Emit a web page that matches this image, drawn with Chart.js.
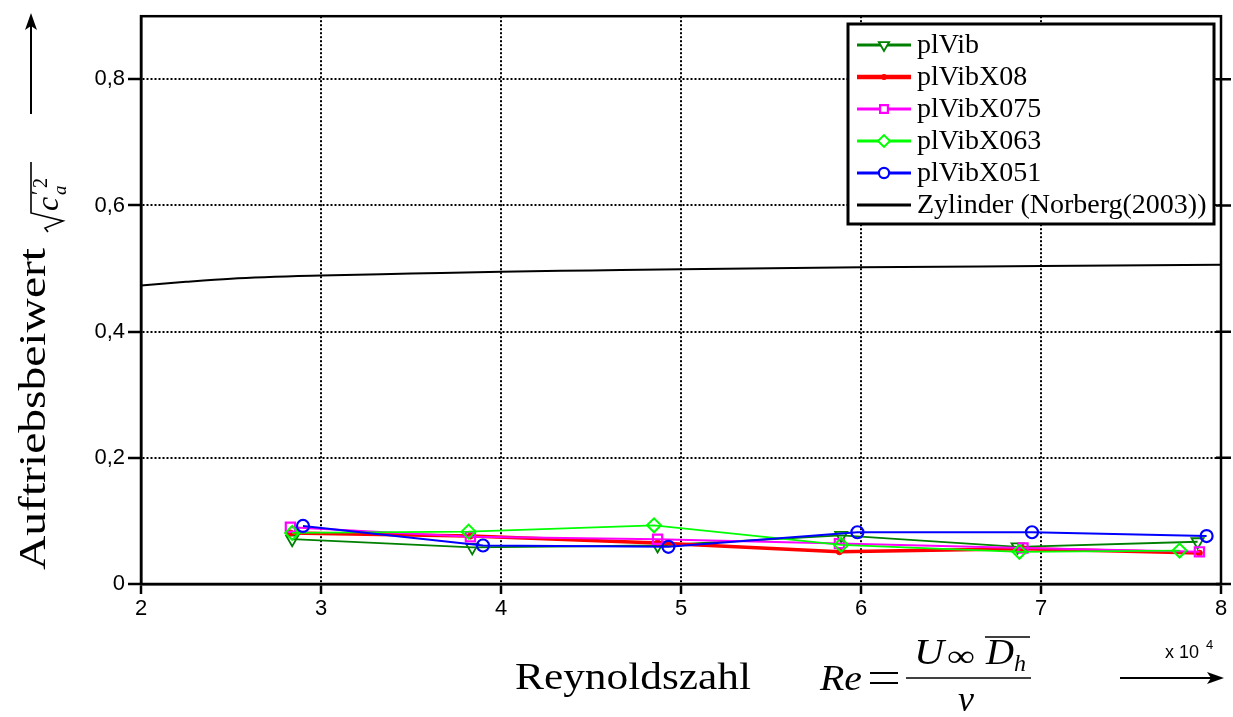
<!DOCTYPE html>
<html>
<head>
<meta charset="utf-8">
<script src="https://cdn.jsdelivr.net/npm/chart.js@4.4.0/dist/chart.umd.min.js"></script>
<style>
  html, body { margin: 0; padding: 0; background: #fff; }
  canvas { display: block; }
</style>
</head>
<body>
<canvas id="liftChart" width="1233" height="717"></canvas>
<script>
// Reynoldszahl in Einheiten von 10^4
const xTicks = [2, 3, 4, 5, 6, 7, 8];
const yTicks = [0, 0.2, 0.4, 0.6, 0.8];

const plVibX = [2.84, 3.84, 4.87, 5.89, 6.87, 7.87];
const plVibY = [0.071, 0.058, 0.061, 0.077, 0.059, 0.067];

const plVibX08X = [2.83, 3.83, 4.87, 5.88, 6.9, 7.88];
const plVibX08Y = [0.081, 0.076, 0.065, 0.051, 0.056, 0.049];

const plVibX075X = [2.83, 3.83, 4.87, 5.88, 6.9, 7.88];
const plVibX075Y = [0.090, 0.075, 0.071, 0.064, 0.057, 0.051];

const plVibX063X = [2.84, 3.82, 4.85, 5.89, 6.88, 7.77];
const plVibX063Y = [0.081, 0.083, 0.093, 0.062, 0.051, 0.053];

const plVibX051X = [2.9, 3.9, 4.93, 5.98, 6.95, 7.92];
const plVibX051Y = [0.092, 0.061, 0.059, 0.082, 0.082, 0.076];

// Zylinder (Norberg 2003)
const norbergX = [2, 2.25, 2.5, 3, 3.5, 4, 4.5, 5, 6, 7, 8];
const norbergY = [0.473, 0.479, 0.484, 0.489, 0.492, 0.495, 0.497, 0.499, 0.502, 0.504, 0.506];

const pts = (xs, ys) => xs.map((x, i) => ({x: x, y: ys[i]}));
const none = 'rgba(0,0,0,0)';

const datasets = [
    {label: 'plVib', data: pts(plVibX, plVibY), borderColor: '#008000', borderWidth: 1.8,
     pointStyle: 'triangle', pointRotation: 180, pointRadius: 7, pointBorderWidth: 1.8,
     pointBackgroundColor: none, order: 5},
    {label: 'plVibX08', data: pts(plVibX08X, plVibX08Y), borderColor: '#ff0000', borderWidth: 3.5,
     pointStyle: 'circle', pointRadius: 3, pointBorderWidth: 1,
     pointBackgroundColor: '#ff0000', order: 4},
    {label: 'plVibX075', data: pts(plVibX075X, plVibX075Y), borderColor: '#ff00ff', borderWidth: 2,
     pointStyle: 'rect', pointRadius: 6.5, pointBorderWidth: 2.2,
     pointBackgroundColor: none, order: 3},
    {label: 'plVibX063', data: pts(plVibX063X, plVibX063Y), borderColor: '#00ff00', borderWidth: 1.8,
     pointStyle: 'rectRot', pointRadius: 7, pointBorderWidth: 2,
     pointBackgroundColor: none, order: 2},
    {label: 'plVibX051', data: pts(plVibX051X, plVibX051Y), borderColor: '#0000ff', borderWidth: 2,
     pointStyle: 'circle', pointRadius: 6, pointBorderWidth: 2.2,
     pointBackgroundColor: none, order: 1},
    {label: 'Zylinder (Norberg(2003))', data: pts(norbergX, norbergY), borderColor: '#000', borderWidth: 2,
     pointRadius: 0, cubicInterpolationMode: 'monotone', order: 6}
];
datasets.forEach(d => { d.backgroundColor = none; d.pointBorderColor = d.borderColor; d.fill = false; });

// text squeezed/stretched to a target width
function fitText(ctx, text, x, y, width) {
    const w = ctx.measureText(text).width;
    ctx.save();
    ctx.translate(x, y);
    ctx.scale(width / w, 1);
    ctx.fillText(text, 0, 0);
    ctx.restore();
}

function arrowHead(ctx, x, y, angle) {
    ctx.save();
    ctx.translate(x, y);
    ctx.rotate(angle);
    ctx.beginPath();
    ctx.moveTo(0, 0);
    ctx.lineTo(-17, -6);
    ctx.lineTo(-13, 0);
    ctx.lineTo(-17, 6);
    ctx.closePath();
    ctx.fill();
    ctx.restore();
}

const decor = {
    id: 'decor',
    afterDraw(chart) {
        const ctx = chart.ctx;
        const a = chart.chartArea;
        const ys = chart.scales.y;
        ctx.save();

        // frame + mirrored ticks
        ctx.strokeStyle = '#000';
        ctx.lineWidth = 2.5;
        ctx.strokeRect(a.left, a.top, a.right - a.left, a.bottom - a.top);
        ctx.beginPath();
        yTicks.forEach(v => {
            const py = ys.getPixelForValue(v);
            ctx.moveTo(a.right - 5, py); ctx.lineTo(a.right + 10, py);
        });
        ctx.stroke();

        // legend box
        const lx = 848, ly = 24, lw = 366, lh = 200;
        ctx.fillStyle = '#fff';
        ctx.fillRect(lx, ly, lw, lh);
        ctx.lineWidth = 3;
        ctx.strokeRect(lx, ly, lw, lh);
        ctx.font = '28px "Liberation Serif"';
        ctx.textBaseline = 'middle';
        const rowY = [45, 77, 109, 141, 173, 205];
        chart.data.datasets.forEach((d, i) => {
            const y = rowY[i];
            ctx.strokeStyle = d.borderColor;
            ctx.lineWidth = Math.max(3, d.borderWidth + 1);
            ctx.beginPath();
            ctx.moveTo(857, y); ctx.lineTo(911, y);
            ctx.stroke();
            if (d.pointRadius > 0) {
                ctx.fillStyle = d.pointBackgroundColor === none ? '#fff' : d.pointBackgroundColor;
                ctx.lineWidth = d.pointBorderWidth;
                Chart.helpers.drawPoint(ctx, {
                    pointStyle: d.pointStyle, rotation: d.pointRotation || 0,
                    radius: d.pointRadius * 0.85, borderWidth: d.pointBorderWidth
                }, 884, y);
            }
            ctx.fillStyle = '#000';
            ctx.fillText(d.label, 917, y + 1);
        });

        ctx.fillStyle = '#000';
        ctx.strokeStyle = '#000';
        ctx.textBaseline = 'alphabetic';

        // y title (rotated)
        ctx.save();
        ctx.translate(45, 570);
        ctx.rotate(-Math.PI / 2);
        ctx.font = '37px "Liberation Serif"';
        fitText(ctx, 'Auftriebsbeiwert', 0, 0, 322);
        ctx.restore();

        // sqrt(c'_a^2)
        ctx.save();
        ctx.translate(58, 232);
        ctx.rotate(-Math.PI / 2);
        ctx.lineWidth = 1.6;
        ctx.beginPath();
        ctx.moveTo(0, -10); ctx.lineTo(4, -13); ctx.lineTo(11, 5);
        ctx.lineTo(19, -27); ctx.lineTo(70, -27);
        ctx.stroke();
        ctx.font = 'italic 32px "Liberation Serif"';
        ctx.fillText('c', 21, 0);
        ctx.font = '20px "Liberation Serif"';
        ctx.fillText('\u2032', 37, -12);
        ctx.fillText('2', 44, -11);
        ctx.font = 'italic 19px "Liberation Serif"';
        ctx.fillText('a', 37, 8);
        ctx.restore();

        // y arrow
        ctx.lineWidth = 2;
        ctx.beginPath();
        ctx.moveTo(31, 114); ctx.lineTo(31, 26);
        ctx.stroke();
        arrowHead(ctx, 31, 13, -Math.PI / 2);

        // x title
        ctx.font = '38px "Liberation Serif"';
        fitText(ctx, 'Reynoldszahl', 515, 689, 236);

        // Re = U_inf D_h / nu
        ctx.font = 'italic 36px "Liberation Serif"';
        fitText(ctx, 'Re', 820, 690, 42);
        ctx.lineWidth = 2;
        ctx.beginPath();
        ctx.moveTo(870, 673); ctx.lineTo(898, 673);
        ctx.moveTo(870, 683); ctx.lineTo(898, 683);
        ctx.stroke();
        ctx.lineWidth = 1.6;
        ctx.beginPath();
        ctx.moveTo(906, 678); ctx.lineTo(1031, 678);
        ctx.stroke();
        ctx.font = 'italic 36px "Liberation Serif"';
        fitText(ctx, 'U', 914, 664, 30);
        ctx.font = '30px "Liberation Serif"';
        fitText(ctx, '\u221e', 947, 666, 28);
        ctx.font = 'italic 36px "Liberation Serif"';
        fitText(ctx, 'D', 986, 664, 28);
        ctx.font = 'italic 24px "Liberation Serif"';
        ctx.fillText('h', 1014, 671);
        ctx.beginPath();
        ctx.moveTo(985, 637); ctx.lineTo(1030, 637);
        ctx.stroke();
        ctx.font = 'italic 36px "Liberation Serif"';
        ctx.fillText('\u03bd', 958, 711);

        // x 10^4
        ctx.font = '18px "Liberation Sans"';
        ctx.fillText('x 10', 1165, 658);
        ctx.font = '13px "Liberation Sans"';
        ctx.fillText('4', 1206, 649);

        // x arrow
        ctx.lineWidth = 2;
        ctx.beginPath();
        ctx.moveTo(1120, 678); ctx.lineTo(1212, 678);
        ctx.stroke();
        arrowHead(ctx, 1224, 678, 0);

        ctx.restore();
    }
};

const gridStyle = len => ({
    color: '#000', lineWidth: 2, borderDash: [2, 2],
    tickLength: len, tickWidth: 2.5, tickColor: '#000', tickBorderDash: []
});
const axisBorder = {display: true, color: '#000', width: 2.5, dash: [2, 2]};
const tickFont = {family: 'Liberation Sans', size: 22};

const chartCtx = document.getElementById('liftChart').getContext('2d');
const liftChart = new Chart(chartCtx, {
    type: 'line',
    data: {datasets: datasets},
    options: {
        responsive: false,
        animation: false,
        layout: {padding: {top: 16, right: 12, left: 0, bottom: 0}},
        plugins: {legend: {display: false}, tooltip: {enabled: false}},
        scales: {
            x: {
                type: 'linear', min: 2, max: 8,
                afterFit(s) { s.height = 133; },
                afterBuildTicks(s) { s.ticks = xTicks.map(v => ({value: v})); },
                ticks: {font: tickFont, color: '#000', padding: 2, maxRotation: 0,
                        callback: v => String(v)},
                grid: gridStyle(10),
                border: axisBorder
            },
            y: {
                type: 'linear', min: 0, max: 0.9,
                afterFit(s) { s.width = 141; },
                afterBuildTicks(s) { s.ticks = yTicks.map(v => ({value: v})); },
                ticks: {font: tickFont, color: '#000', padding: 3,
                        callback: v => v === 0 ? '0' : v.toFixed(1).replace('.', ',')},
                grid: gridStyle(13),
                border: axisBorder
            }
        }
    },
    plugins: [decor]
});
</script>
</body>
</html>
